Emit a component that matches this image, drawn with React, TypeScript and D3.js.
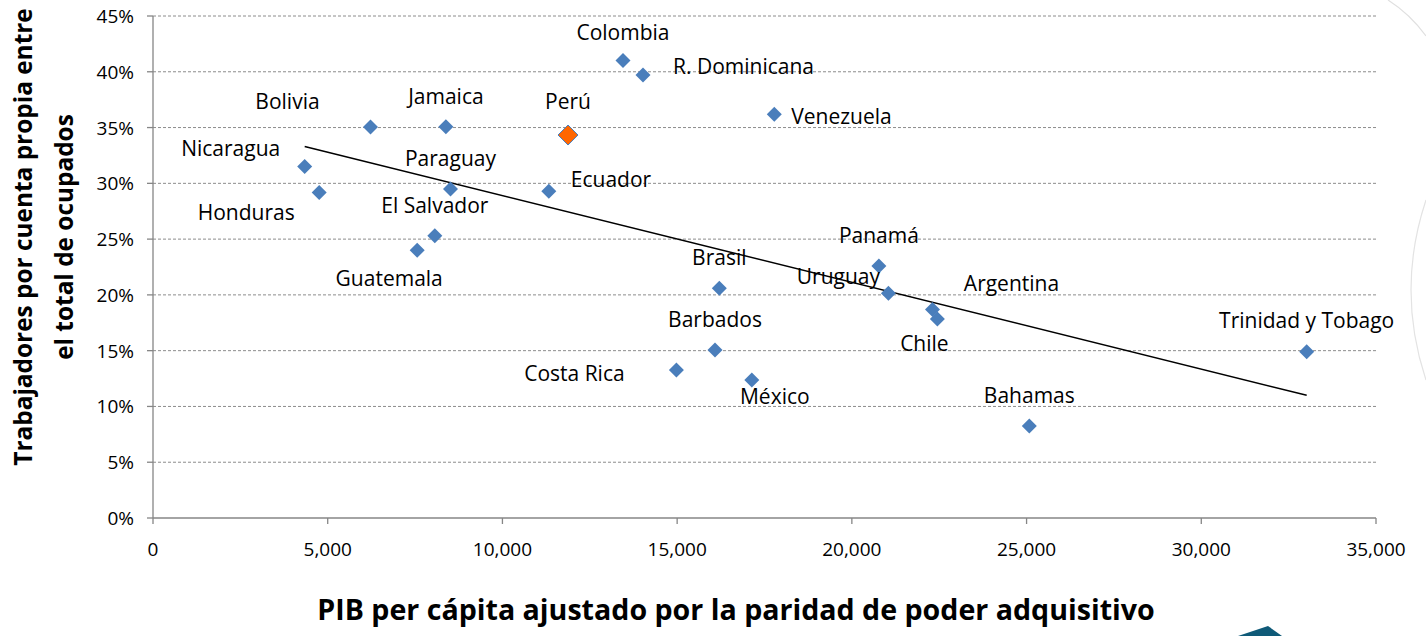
import React from "react";
import * as d3 from "d3";

const countries = [
  "Colombia", "R. Dominicana", "Venezuela", "Bolivia", "Jamaica", "Perú",
  "Nicaragua", "Honduras", "Paraguay", "Ecuador", "El Salvador", "Guatemala",
  "Panamá", "Brasil", "Uruguay", "Argentina", "Chile", "Barbados",
  "Costa Rica", "México", "Bahamas", "Trinidad y Tobago",
];
const gdpPpp = [
  13450, 14023, 17780, 6224, 8382, 11877,
  4341, 4756, 8514, 11327, 8065, 7561,
  20774, 16207, 21046, 22308, 22448, 16084,
  14979, 17137, 25078, 33016,
];
const selfEmployedPct = [
  41.0, 39.7, 36.2, 35.05, 35.07, 34.33,
  31.5, 29.17, 29.5, 29.29, 25.3, 24.0,
  22.6, 20.6, 20.15, 18.7, 17.84, 15.06,
  13.27, 12.37, 8.25, 14.9,
];
const highlighted = ["Perú"];
const xTicks = [0, 5000, 10000, 15000, 20000, 25000, 30000, 35000];
const yTicks = [0, 5, 10, 15, 20, 25, 30, 35, 40, 45];

// label placement (layout, not data): [anchor, dx, dy]
const labelPlacement: Record<string, [string, number, number]> = {
  "Colombia": ["middle", 0, -29],
  "R. Dominicana": ["start", 30, -9],
  "Venezuela": ["start", 17, 2],
  "Bolivia": ["middle", -83, -26],
  "Jamaica": ["middle", 0, -31],
  "Perú": ["middle", 0, -34],
  "Nicaragua": ["middle", -74, -19],
  "Honduras": ["middle", -73, 19],
  "Paraguay": ["middle", 0, -31],
  "Ecuador": ["start", 22, -12],
  "El Salvador": ["middle", 0, -31],
  "Guatemala": ["middle", -28, 28],
  "Panamá": ["middle", 0, -31],
  "Brasil": ["middle", 0, -31],
  "Uruguay": ["middle", -50, -17],
  "Argentina": ["middle", 79, -26],
  "Chile": ["middle", -13, 24],
  "Barbados": ["middle", 0, -31],
  "Costa Rica": ["middle", -102, 3],
  "México": ["middle", 23, 16],
  "Bahamas": ["middle", 0, -31],
  "Trinidad y Tobago": ["middle", 0, -32],
};

const W = 1426;
const H = 636;
const FONT = "'Open Sans', Lato, sans-serif";

export default function App() {
  const x = d3.scaleLinear().domain([0, 35000]).range([153, 1376]);
  const y = d3.scaleLinear().domain([0, 45]).range([518, 16]);

  const pts = countries.map((c, i) => ({ c, gx: gdpPpp[i], gy: selfEmployedPct[i] }));
  const mx = d3.mean(pts, (p) => p.gx)!;
  const my = d3.mean(pts, (p) => p.gy)!;
  const sxy = d3.sum(pts, (p) => (p.gx - mx) * (p.gy - my));
  const sxx = d3.sum(pts, (p) => (p.gx - mx) * (p.gx - mx));
  const slope = sxy / sxx;
  const icpt = my - slope * mx;
  const [xmin, xmax] = d3.extent(pts, (p) => p.gx) as [number, number];
  const trend = d3.line<number>().x((v) => x(v)).y((v) => y(icpt + slope * v));

  const fmt = d3.format(",");
  const diamond = (cx: number, cy: number, r: number) =>
    `M${cx},${cy - r}L${cx + r},${cy}L${cx},${cy + r}L${cx - r},${cy}Z`;

  return (
    <svg width={W} height={H} style={{ position: "absolute", left: 0, top: 0, background: "#fff" }} fontFamily={FONT}>
      {/* decorative slide shapes */}
      <path d="M1388,0 Q1410,14 1426,36" fill="none" stroke="#e0e0e0" strokeWidth={1.2} />
      <path d="M1426,200 Q1396,290 1426,380" fill="none" stroke="#e3e3e3" strokeWidth={1.2} />
      <path d="M1238,636 L1268,626 L1282,636 Z" fill="#0f5a78" />

      {/* gridlines */}
      {yTicks.filter((t) => t > 0).map((t) => (
        <line key={t} x1={x(0)} x2={x(35000)} y1={y(t)} y2={y(t)} stroke="#8c8c8c" strokeWidth={1} strokeDasharray="3,2" />
      ))}

      {/* axes */}
      <line x1={x(0)} x2={x(0)} y1={y(0)} y2={y(45)} stroke="#868686" strokeWidth={1.3} />
      {yTicks.map((t) => (
        <g key={t}>
          <line x1={x(0) - 6} x2={x(0)} y1={y(t)} y2={y(t)} stroke="#868686" strokeWidth={1.3} />
          <text x={134} y={y(t)} textAnchor="end" dominantBaseline="central" fontSize={19} fill="#000">{t}%</text>
        </g>
      ))}
      <line x1={x(0)} x2={x(35000)} y1={y(0)} y2={y(0)} stroke="#868686" strokeWidth={1.3} />
      {xTicks.map((t) => (
        <g key={t}>
          <line x1={x(t)} x2={x(t)} y1={y(0)} y2={y(0) + 6} stroke="#868686" strokeWidth={1.3} />
          <text x={x(t)} y={549} textAnchor="middle" dominantBaseline="central" fontSize={19} fill="#000">{fmt(t)}</text>
        </g>
      ))}

      {/* trend line */}
      <path d={trend([xmin, xmax])!} fill="none" stroke="#000" strokeWidth={1.5} />

      {/* points */}
      {pts.map((p) => {
        const hi = highlighted.includes(p.c);
        return (
          <path key={p.c} d={diamond(x(p.gx), y(p.gy), hi ? 10 : 7.5)}
            fill={hi ? "#ff6600" : "#4a7ebb"} stroke={hi ? "#4a7ebb" : "none"} strokeWidth={hi ? 1 : 0} />
        );
      })}

      {/* labels */}
      {pts.map((p) => {
        const [anchor, dx, dy] = labelPlacement[p.c];
        return (
          <text key={p.c} x={x(p.gx) + dx} y={y(p.gy) + dy} textAnchor={anchor as any} dominantBaseline="central" fontSize={21} fill="#000">{p.c}</text>
        );
      })}

      {/* axis titles */}
      <text transform="translate(22,237) rotate(-90)" textAnchor="middle" dominantBaseline="central" fontSize={24.4} fontWeight="bold" fill="#000">Trabajadores por cuenta propia entre</text>
      <text transform="translate(63,237) rotate(-90)" textAnchor="middle" dominantBaseline="central" fontSize={24.4} fontWeight="bold" fill="#000">el total de ocupados</text>
      <text x={736} y={608} textAnchor="middle" dominantBaseline="central" fontSize={28.6} fontWeight="bold" fill="#000">PIB per cápita ajustado por la paridad de poder adquisitivo</text>
    </svg>
  );
}
